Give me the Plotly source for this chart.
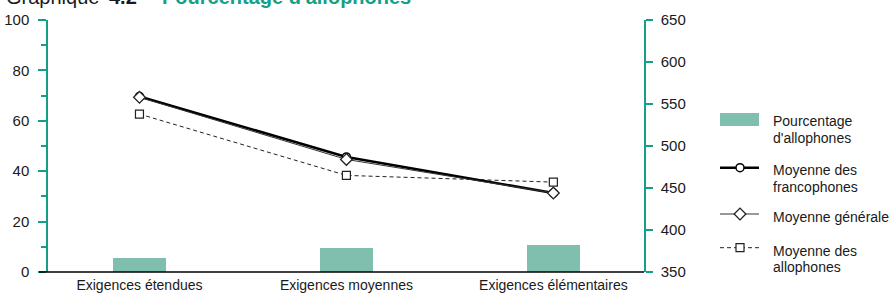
import plotly.graph_objects as go

W, H = 891, 298

categories = ["Exigences étendues", "Exigences moyennes", "Exigences élémentaires"]
pct_allophones = [5.7, 9.6, 10.7]
moy_francophones = [559, 487, 444]
moy_generale = [558, 484, 444]
moy_allophones = [538, 465, 457]
left_ticks = [0, 20, 40, 60, 80, 100]
right_ticks = [350, 400, 450, 500, 550, 600, 650]

legend_lines = [["Pourcentage", "d'allophones"], ["Moyenne des", "francophones"],
                ["Moyenne générale"], ["Moyenne des", "allophones"]]

TEAL = "#13a085"
BAR = "#80bfae"
FONT = "Liberation Sans, Arial, sans-serif"

def px(x):
    return x / W

def py(y):
    return 1 - y / H

xpos = list(range(len(categories)))

fig = go.Figure()
fig.add_trace(go.Bar(x=xpos, y=pct_allophones, width=0.256, marker_color=BAR,
                     marker_line_width=0, yaxis="y", showlegend=False))

styles = {
    "allo": dict(line=dict(color="#222", width=1, dash="4px,3px"),
                 marker=dict(symbol="square", size=8, color="white", line=dict(color="#222", width=1.2))),
    "franco": dict(line=dict(color="black", width=2.6),
                   marker=dict(symbol="circle", size=8, color="white", line=dict(color="black", width=1.5))),
    "gen": dict(line=dict(color="#333", width=1),
                marker=dict(symbol="diamond", size=9, color="white", line=dict(color="#222", width=1.3))),
}

fig.add_trace(go.Scatter(x=xpos, y=moy_allophones, yaxis="y2", mode="lines+markers",
                         showlegend=False, **styles["allo"]))
fig.add_trace(go.Scatter(x=xpos, y=moy_francophones, yaxis="y2", mode="lines+markers",
                         showlegend=False, **styles["franco"]))
fig.add_trace(go.Scatter(x=xpos, y=moy_generale, yaxis="y2", mode="lines+markers",
                         showlegend=False, **styles["gen"]))

# manual legend keys on a pixel-coordinate overlay subplot
leg_x0, leg_x1, leg_mx = 720, 759, 740
leg_rows = [(167.7, "franco"), (214, "gen"), (247.7, "allo")]
for yy, key in leg_rows:
    st = styles[key]
    fig.add_trace(go.Scatter(x=[leg_x0, leg_x1], y=[yy, yy], xaxis="x3", yaxis="y3",
                             mode="lines", line=st["line"], showlegend=False, hoverinfo="skip"))
    fig.add_trace(go.Scatter(x=[leg_mx], y=[yy], xaxis="x3", yaxis="y3",
                             mode="markers", marker=st["marker"], showlegend=False, hoverinfo="skip"))

shapes = [
    dict(type="rect", xref="paper", yref="paper", x0=px(720), x1=px(759), y0=py(126), y1=py(113),
         fillcolor=BAR, line_width=0),
    dict(type="line", xref="paper", yref="paper", x0=px(39), x1=px(644), y0=py(272), y1=py(272),
         line=dict(color="black", width=1.5)),
]

annotations = []
LEG_SIZE = 14
leg_baselines = [[126, 143], [175, 192], [222], [256, 272]]
for lines, bases in zip(legend_lines, leg_baselines):
    for txt, b in zip(lines, bases):
        annotations.append(dict(text=txt, xref="paper", yref="paper", x=px(771),
                                y=py(b - 0.33 * LEG_SIZE), xanchor="left", yanchor="middle",
                                showarrow=False, font=dict(family=FONT, size=LEG_SIZE, color="#1a1a1a")))

TSIZE = 20
ty = py(4 - 0.33 * TSIZE)
annotations.append(dict(text="Graphique", xref="paper", yref="paper", x=px(4), y=ty,
                        xanchor="left", yanchor="middle", showarrow=False,
                        font=dict(family=FONT, size=TSIZE, color="#1a1a1a")))
annotations.append(dict(text="<b>4.2</b>", xref="paper", yref="paper", x=px(107), y=ty,
                        xanchor="left", yanchor="middle", showarrow=False,
                        font=dict(family=FONT, size=TSIZE, color="#1a1a1a")))
annotations.append(dict(text="<b>Pourcentage d'allophones</b>", xref="paper", yref="paper", x=px(160), y=ty,
                        xanchor="left", yanchor="middle", showarrow=False,
                        font=dict(family=FONT, size=TSIZE, color=TEAL)))

fig.update_layout(
    width=W, height=H,
    margin=dict(l=0, r=0, t=0, b=0, autoexpand=False),
    paper_bgcolor="white", plot_bgcolor="rgba(0,0,0,0)",
    font=dict(family=FONT, size=15, color="#1a1a1a"),
    xaxis=dict(domain=[px(48), px(644)], range=[-0.442, 2.438], tickvals=xpos, ticktext=categories,
               showline=False, ticks="", showgrid=False, zeroline=False, automargin=False,
               tickfont=dict(size=14), ticklabelstandoff=3),
    yaxis=dict(domain=[py(272), py(20)], range=[0, 100], tickvals=left_ticks, automargin=False,
               showline=True, linecolor=TEAL, linewidth=1.5, ticks="outside", ticklen=8,
               tickcolor=TEAL, tickwidth=1.5, showgrid=False, zeroline=False,
               minor=dict(dtick=10, ticks="outside", ticklen=5, tickcolor=TEAL, tickwidth=1.5, showgrid=False),
               tickfont=dict(size=15), ticklabelstandoff=6),
    yaxis2=dict(overlaying="y", side="right", range=[350, 650], tickvals=right_ticks, automargin=False,
                showline=True, linecolor=TEAL, linewidth=1.5, ticks="outside", ticklen=7,
                tickcolor=TEAL, tickwidth=1.5, showgrid=False, zeroline=False,
                tickfont=dict(size=15), ticklabelstandoff=5),
    xaxis3=dict(domain=[0, 1], range=[0, W], visible=False, anchor="y3"),
    yaxis3=dict(domain=[0, 1], range=[H, 0], visible=False, anchor="x3"),
    shapes=shapes, annotations=annotations,
    bargap=0,
)

fig.write_html("out.html", config={"displayModeBar": False},
               post_script="document.body.style.margin='0';document.body.style.overflow='hidden';")
